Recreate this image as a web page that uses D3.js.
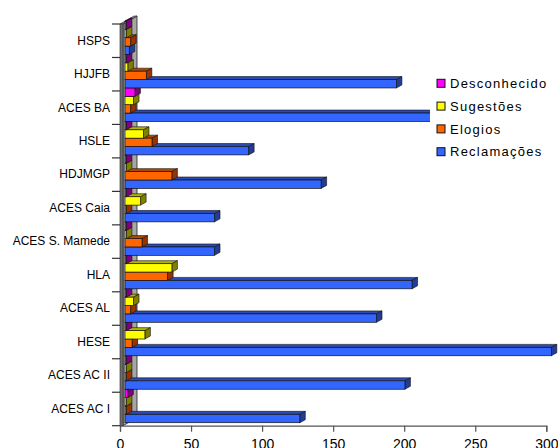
<!DOCTYPE html>
<html>
<head>
<meta charset="utf-8">
<script src="https://cdn.jsdelivr.net/npm/d3@7"></script>
<style>
  html, body { margin: 0; padding: 0; background: #fff; }
  svg { display: block; font-family: "Liberation Sans", Arial, sans-serif; }
</style>
</head>
<body>
<svg id="chart" width="558" height="448"></svg>
<script>
// Categories, listed top to bottom as they appear on the axis
const categories = ["HSPS", "HJJFB", "ACES BA", "HSLE", "HDJMGP", "ACES Caia",
  "ACES S. Mamede", "HLA", "ACES AL", "HESE", "ACES AC II", "ACES AC I"];

// Series values, one per category (same order as above)
const desconhecido = [1, 1, 7, 1, 1, 1, 1, 1, 1, 1, 1, 2];
const sugestoes    = [1, 2, 6, 13, 1, 11, 1, 33, 6, 14, 1, 1];
const elogios      = [4, 15, 4, 19, 33, 1, 12, 30, 4, 5, 1, 1];
const reclamacoes  = [3, 191, 240, 87, 138, 63, 63, 202, 177, 300, 197, 123];

const seriesNames = ["Desconhecido", "Sugestões", "Elogios", "Reclamações"];
const seriesValues = [desconhecido, sugestoes, elogios, reclamacoes];
const xTicks = [0, 50, 100, 150, 200, 250, 300];

// Face colours: front, top, side
const palette = {
  "Desconhecido": ["#FF00FF", "#B000B0", "#800080"],
  "Sugestões":    ["#FFFF00", "#B3B300", "#808000"],
  "Elogios":      ["#FF6600", "#B34700", "#993300"],
  "Reclamações":  ["#3366FF", "#2A4BB8", "#1F3D99"]
};

const svg = d3.select("#chart");

// Front plane of the plot
const plotLeft = 120, plotRight = 546.3, plotTop = 24, plotBottom = 425.7;
// Depth of the side wall, offset of bar fronts, depth of each bar
const wall = { dx: 14, dy: -8 };
const barOff = { dx: 5, dy: -3 };
const barDepth = { dx: 5.5, dy: -3 };

const x = d3.scaleLinear().domain([0, 300]).range([plotLeft, plotRight]);
const y = d3.scaleBand().domain(categories).range([plotTop, plotBottom]).padding(0);
const ys = d3.scaleBand().domain(seriesNames).range([0, y.bandwidth()]).padding(0);

// Side wall (value-axis floor) with its thickness strip
const wallG = svg.append("g");
wallG.append("path")
  .attr("d", `M${plotLeft + 3},${plotBottom} L${plotLeft + 3},${plotTop} L${plotLeft + 3 + wall.dx},${plotTop + wall.dy} L${plotLeft + 3 + wall.dx},${plotBottom + wall.dy} Z`)
  .attr("fill", "#a6a6a6").attr("stroke", "#222").attr("stroke-width", 0.8);
wallG.append("path")
  .attr("d", `M${plotLeft},${plotTop} L${plotLeft + 3},${plotTop} L${plotLeft + 3 + wall.dx},${plotTop + wall.dy} L${plotLeft + wall.dx},${plotTop + wall.dy} Z`)
  .attr("fill", "#8c8c8c").attr("stroke", "#222").attr("stroke-width", 0.6);
wallG.append("rect")
  .attr("x", plotLeft).attr("y", plotTop).attr("width", 3).attr("height", plotBottom - plotTop)
  .attr("fill", "#6e6e6e").attr("stroke", "#222").attr("stroke-width", 0.6);

// Flatten bars; draw lower bars first so upper fronts cover hidden faces
const bars = [];
for (let i = categories.length - 1; i >= 0; i--) {
  for (let s = seriesNames.length - 1; s >= 0; s--) {
    bars.push({ cat: categories[i], series: seriesNames[s], value: seriesValues[s][i] });
  }
}

const barG = svg.append("g")
  .selectAll("g.bar")
  .data(bars)
  .join("g")
  .attr("class", "bar");

function geom(d) {
  const x0 = x(0) + barOff.dx;
  const x1 = x(d.value) + barOff.dx;
  const y0 = y(d.cat) + ys(d.series) + barOff.dy;
  const h = ys.bandwidth();
  return { x0, x1, y0, h };
}

// Top face
barG.append("path")
  .attr("d", d => {
    const g = geom(d);
    return `M${g.x0},${g.y0} L${g.x0 + barDepth.dx},${g.y0 + barDepth.dy} L${g.x1 + barDepth.dx},${g.y0 + barDepth.dy} L${g.x1},${g.y0} Z`;
  })
  .attr("fill", d => palette[d.series][1])
  .attr("stroke", "#111").attr("stroke-width", 0.6).attr("stroke-linejoin", "round");

// Right side face
barG.append("path")
  .attr("d", d => {
    const g = geom(d);
    return `M${g.x1},${g.y0} L${g.x1 + barDepth.dx},${g.y0 + barDepth.dy} L${g.x1 + barDepth.dx},${g.y0 + g.h + barDepth.dy} L${g.x1},${g.y0 + g.h} Z`;
  })
  .attr("fill", d => palette[d.series][2])
  .attr("stroke", "#111").attr("stroke-width", 0.6).attr("stroke-linejoin", "round");

// Front face
barG.append("rect")
  .attr("x", d => geom(d).x0)
  .attr("y", d => geom(d).y0)
  .attr("width", d => Math.max(0, geom(d).x1 - geom(d).x0))
  .attr("height", d => geom(d).h)
  .attr("fill", d => palette[d.series][0])
  .attr("stroke", "#111").attr("stroke-width", 0.7);

// Value axis along the bottom edge
const xAxis = svg.append("g")
  .attr("transform", `translate(0,${plotBottom})`)
  .call(d3.axisBottom(x).tickValues(xTicks).tickSize(6).tickPadding(7).tickFormat(d3.format("d")));
xAxis.select(".domain").attr("stroke", "#555").attr("stroke-width", 1.2);
xAxis.selectAll(".tick line").attr("stroke", "#555").attr("stroke-width", 1.2);
xAxis.selectAll(".tick text")
  .attr("fill", "#000").style("font-size", "14px")
  .style("font-family", "'Liberation Sans', Arial, sans-serif");

// Category axis: labels at band centres, ticks at band boundaries
const yAxis = svg.append("g")
  .attr("transform", `translate(${plotLeft},0)`)
  .call(d3.axisLeft(y).tickSize(0).tickPadding(10));
yAxis.select(".domain").remove();
yAxis.selectAll(".tick text")
  .attr("fill", "#000").style("font-size", "12px")
  .style("font-family", "'Liberation Sans', Arial, sans-serif");

const bounds = categories.map(c => y(c)).concat([plotBottom]);
svg.append("g").selectAll("line")
  .data(bounds)
  .join("line")
  .attr("x1", plotLeft - 8).attr("x2", plotLeft)
  .attr("y1", d => d).attr("y2", d => d)
  .attr("stroke", "#333").attr("stroke-width", 1.2);

// Legend, drawn over the plot on a white panel
const legend = svg.append("g");
legend.append("rect")
  .attr("x", 430).attr("y", 68).attr("width", 128).attr("height", 98)
  .attr("fill", "#fff");
const item = legend.selectAll("g.item")
  .data(seriesNames)
  .join("g")
  .attr("class", "item")
  .attr("transform", (d, i) => `translate(437,${83.3 + i * 22.8})`);
item.append("rect")
  .attr("x", 0).attr("y", -4).attr("width", 8).attr("height", 8)
  .attr("fill", d => palette[d][0])
  .attr("stroke", "#111").attr("stroke-width", 1);
item.append("text")
  .attr("x", 13).attr("y", 0).attr("dy", "0.36em")
  .style("font-size", "13px").style("letter-spacing", "1.25px")
  .attr("fill", "#000")
  .text(d => d);
</script>
</body>
</html>
